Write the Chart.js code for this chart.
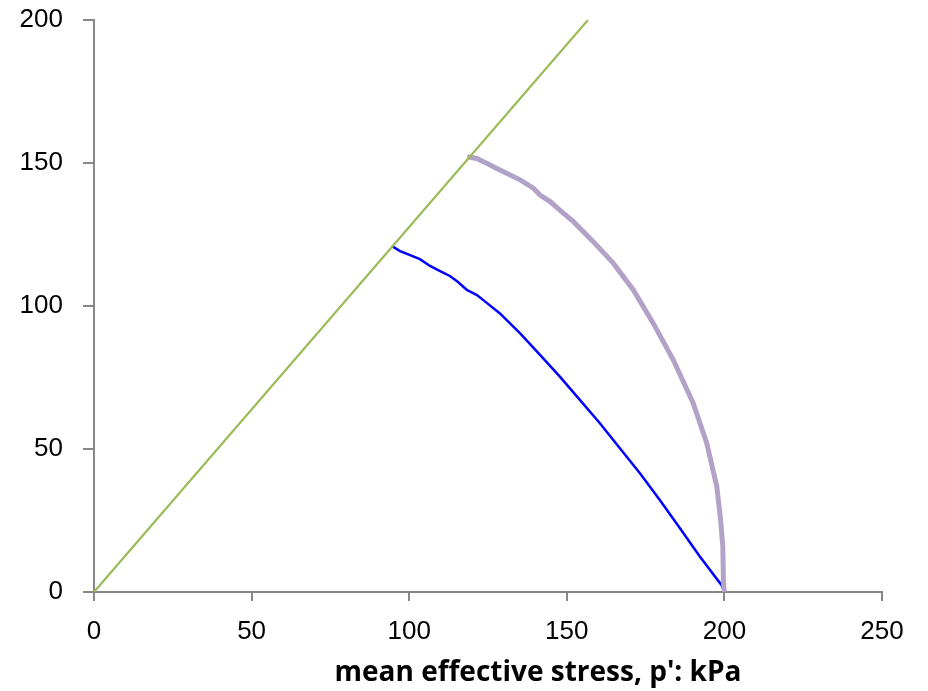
<!DOCTYPE html>
<html>
<head>
<meta charset="utf-8">
<script src="https://cdn.jsdelivr.net/npm/chart.js@4"></script>
<style>
  html, body { margin: 0; padding: 0; background: #fff; }
  #wrap { width: 928px; height: 691px; }
</style>
</head>
<body>
<div id="wrap"><canvas id="chart" width="928" height="691"></canvas></div>
<script>
// critical state line q = M p'
const cslP = [0, 156.7];
const cslQ = [0, 200];

// stress path 1 (blue)
const path1P = [94.4, 97.1, 100.3, 103.4, 106.6, 109.8, 112.9, 115.5, 118.3, 121.5, 124.7, 128.8, 135.2, 141.5, 147.8, 154.2, 160.5, 166.9, 173.2, 179.5, 185.9, 192.2, 199.1, 200];
const path1Q = [121.0, 119.2, 117.8, 116.4, 114.0, 112.2, 110.5, 108.4, 105.6, 103.8, 101.0, 97.4, 90.4, 82.9, 75.3, 67.1, 59.0, 50.2, 41.5, 32.2, 22.3, 12.4, 2.4, 0];

// stress path 2 (purple)
const path2P = [118.4, 121.4, 124.6, 127.8, 130.9, 135.2, 139.4, 141.5, 144.7, 147.8, 152.1, 158.4, 164.8, 171.1, 177.4, 183.8, 190.1, 194.4, 197.6, 198.8, 199.5, 199.7, 200];
const path2Q = [152.2, 151.6, 149.9, 148.1, 146.4, 144.1, 141.2, 138.8, 136.5, 133.5, 129.5, 122.5, 114.9, 105.6, 94.0, 81.1, 66.0, 52.0, 36.8, 25.2, 15.8, 3.0, 0];

const xTicks = [0, 50, 100, 150, 200, 250];
const yTicks = [0, 50, 100, 150, 200];
const xTitle = "mean effective stress, p': kPa";

const toPts = (xs, ys) => xs.map((x, i) => ({ x: x, y: ys[i] }));

const axisGrey = '#888888';
const tickFont = { family: 'Liberation Sans', size: 26 };

const titlePlugin = {
  id: 'xtitle',
  afterDraw(chart) {
    const ctx = chart.ctx;
    ctx.save();
    ctx.font = 'bold 28px "Open Sans"';
    ctx.fillStyle = '#000';
    ctx.textAlign = 'center';
    ctx.textBaseline = 'alphabetic';
    ctx.fillText(xTitle, 538, 681);
    ctx.restore();
  }
};

new Chart(document.getElementById('chart'), {
  type: 'scatter',
  data: {
    datasets: [
      {
        label: 'CSL',
        data: toPts(cslP, cslQ),
        showLine: true,
        borderColor: '#9BBB59',
        borderWidth: 2.2,
        pointRadius: 0
      },
      {
        label: 'path 2',
        data: toPts(path2P, path2Q),
        showLine: true,
        borderColor: '#B3A2C7',
        borderWidth: 5,
        pointRadius: 0
      },
      {
        label: 'path 1',
        data: toPts(path1P, path1Q),
        showLine: true,
        borderColor: '#0000FF',
        borderWidth: 2.5,
        pointRadius: 0
      }
    ]
  },
  options: {
    responsive: false,
    animation: false,
    layout: { padding: { top: 20, right: 46, left: 0, bottom: 0 } },
    plugins: { legend: { display: false }, tooltip: { enabled: false } },
    scales: {
      x: {
        type: 'linear',
        min: 0, max: 250,
        afterBuildTicks: axis => { axis.ticks = xTicks.map(v => ({ value: v })); },
        afterFit: axis => {
          axis.height = 99;
          axis.paddingLeft = 0;
          axis.paddingRight = 0;
        },
        grid: { drawOnChartArea: false, drawTicks: true, tickLength: 9, color: axisGrey, lineWidth: 2 },
        border: { color: axisGrey, width: 2 },
        ticks: { color: '#000', font: tickFont, padding: 15, maxRotation: 0 }
      },
      y: {
        type: 'linear',
        min: 0, max: 200,
        afterBuildTicks: axis => { axis.ticks = yTicks.map(v => ({ value: v })); },
        afterFit: axis => {
          axis.width = 94;
          axis.paddingTop = 0;
          axis.paddingBottom = 0;
        },
        grid: { drawOnChartArea: false, drawTicks: true, tickLength: 11, color: axisGrey, lineWidth: 2 },
        border: { color: axisGrey, width: 2 },
        ticks: { color: '#000', font: tickFont, padding: 20 }
      }
    }
  },
  plugins: [titlePlugin]
});
</script>
</body>
</html>
